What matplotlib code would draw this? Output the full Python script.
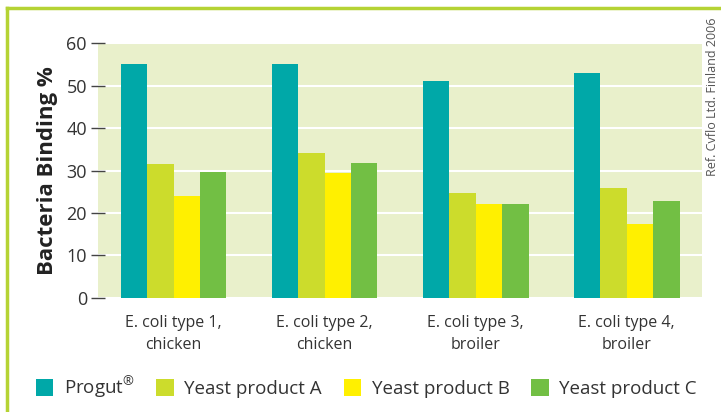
import numpy as np
import matplotlib
matplotlib.use("Agg")
import matplotlib.pyplot as plt
from matplotlib.lines import Line2D

# data
categories = ["E. coli type 1,\nchicken", "E. coli type 2,\nchicken",
              "E. coli type 3,\nbroiler", "E. coli type 4,\nbroiler"]
series_names = ["Progut$^{\u00ae}$", "Yeast product A", "Yeast product B", "Yeast product C"]
progut = [55.0, 55.2, 51.0, 53.0]
yeast_a = [31.6, 34.1, 24.8, 25.9]
yeast_b = [24.1, 29.4, 22.2, 17.5]
yeast_c = [29.7, 31.9, 22.2, 22.9]
colors = ["#00A8A8", "#CCDC2C", "#FFF000", "#72BF44"]
yticks = [0, 10, 20, 30, 40, 50, 60]

plt.rcParams['font.family'] = ['Open Sans', 'DejaVu Sans']
plt.rcParams['mathtext.fontset'] = 'custom'
plt.rcParams['mathtext.rm'] = 'Open Sans'

fig = plt.figure(figsize=(7.21, 4.12), dpi=100)
ax = fig.add_axes([0.136, 0.277, 0.838, 0.618])
ax.set_facecolor("#E9F0CB")

x = np.arange(len(categories))
w = 0.175
all_series = [progut, yeast_a, yeast_b, yeast_c]
bars = []
for i, vals in enumerate(all_series):
    b = ax.bar(x + (i - 1.5) * w, vals, w, color=colors[i], label=series_names[i], zorder=3)
    bars.append(b)

ax.set_xlim(-0.5, 3.5)
ax.set_ylim(0, 60)
ax.set_yticks(yticks)
ax.yaxis.grid(True, color="white", linewidth=1.5, zorder=1)
ax.set_axisbelow(True)
for s in ax.spines.values():
    s.set_visible(False)
ax.tick_params(axis="y", direction="inout", length=10, width=1, color="#444444",
               labelsize=13, labelcolor="#333333", pad=3)
ax.set_xticks(x)
ax.set_xticklabels(categories, fontsize=11.5, color="#333333", linespacing=1.55)
ax.tick_params(axis="x", length=0, pad=12)
ax.set_ylabel("Bacteria Binding %", fontsize=16, fontweight="bold", color="#222222", labelpad=6)

leg = fig.legend(handles=bars, labels=series_names, loc="center", bbox_to_anchor=(0.508, 0.06),
                 ncol=4, frameon=False, fontsize=13.5, handlelength=0.95, handleheight=0.95,
                 handletextpad=0.55, columnspacing=1.15, labelcolor="#333333")

fig.text(0.988, 0.765, "Ref. Cvflo Ltd. Finland 2006", rotation=90, ha="center", va="center",
         fontsize=9, color="#555555")

# green frame on top and left
fig.add_artist(Line2D([0.0097, 1.0], [0.980, 0.980], color="#B5D334", linewidth=2.5))
fig.add_artist(Line2D([0.0097, 0.0097], [0.0, 0.980], color="#B5D334", linewidth=2.5))

fig.savefig("out.png", dpi=100, facecolor="white")
